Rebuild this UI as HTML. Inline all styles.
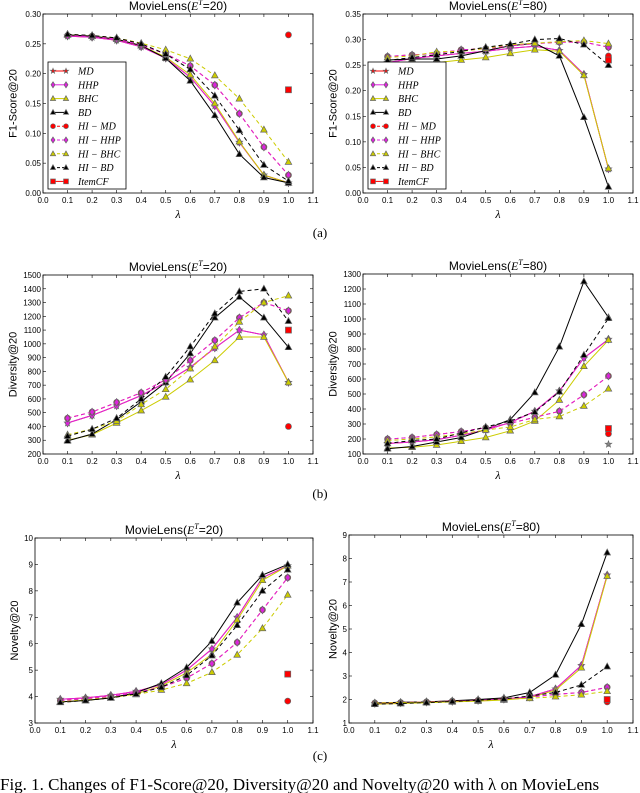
<!DOCTYPE html>
<html><head><meta charset="utf-8">
<style>
body{margin:0;background:#fff;width:640px;height:793px;overflow:hidden}
svg{display:block}
text{font-family:"Liberation Sans",sans-serif}
.serif{font-family:"Liberation Serif",serif}
</style></head>
<body>
<svg id="fig" width="640" height="793" viewBox="0 0 640 793" xmlns="http://www.w3.org/2000/svg"></svg>
<script>
const lambdas = [0.1,0.2,0.3,0.4,0.5,0.6,0.7,0.8,0.9,1.0];
const xTicks = [0.0,0.1,0.2,0.3,0.4,0.5,0.6,0.7,0.8,0.9,1.0,1.1];
const seriesNames = ["MD","HHP","BHC","BD","HI-MD","HI-HHP","HI-BHC","HI-BD"];
// (a) F1 E=20
const a1_MD=[.263,.261,.256,.245,.226,.194,.146,.085,.03,.017];
const a1_HHP=[.263,.261,.256,.245,.226,.194,.146,.085,.03,.017];
const a1_BHC=[.265,.263,.258,.247,.228,.198,.15,.086,.03,.017];
const a1_BD=[.265,.263,.258,.247,.226,.188,.13,.065,.026,.017];
const a1_HIMD=[.264,.263,.258,.248,.233,.213,.181,.133,.077,.03];
const a1_HIHHP=[.264,.263,.258,.248,.233,.213,.181,.133,.077,.03];
const a1_HIBHC=[.266,.264,.26,.251,.24,.225,.197,.158,.106,.052];
const a1_HIBD=[.266,.264,.26,.25,.233,.207,.163,.105,.047,.02];
const a1_extra=[.265,.173];
const a1_yTicks=[0,.05,.10,.15,.20,.25,.30];
// (a) F1 E=80
const a2_MD=[.255,.263,.268,.273,.277,.283,.287,.279,.232,.047];
const a2_HHP=[.255,.263,.268,.273,.277,.283,.287,.279,.232,.047];
const a2_BHC=[.255,.255,.255,.26,.265,.273,.28,.277,.23,.048];
const a2_BD=[.26,.262,.262,.268,.278,.288,.293,.268,.148,.012];
const a2_HIMD=[.267,.27,.273,.28,.282,.288,.292,.295,.295,.285];
const a2_HIHHP=[.267,.27,.273,.28,.282,.288,.292,.295,.295,.285];
const a2_HIBHC=[.265,.268,.276,.277,.283,.29,.293,.296,.298,.292];
const a2_HIBD=[.259,.265,.27,.277,.285,.291,.3,.302,.29,.25];
const a2_extra=[.268,.26];
const a2_yTicks=[0,.05,.10,.15,.20,.25,.30,.35];
// (b) Diversity E=20
const b1_MD=[425,480,550,625,720,830,970,1100,1065,720];
const b1_HHP=[425,480,550,625,720,830,970,1100,1065,720];
const b1_BHC=[300,340,425,515,615,740,880,1050,1050,720];
const b1_BD=[295,345,450,580,720,930,1190,1340,1190,975];
const b1_HIMD=[460,505,575,645,740,880,1025,1190,1300,1240];
const b1_HIHHP=[460,505,575,645,740,880,1025,1190,1300,1240];
const b1_HIBHC=[340,380,440,560,670,820,980,1160,1300,1350];
const b1_HIBD=[330,380,460,600,760,980,1220,1380,1400,1165];
const b1_extra=[400,1100];
const b1_yTicks=[200,300,400,500,600,700,800,900,1000,1100,1200,1300,1400,1500];
// (b) Diversity E=80
const b2_MD=[170,180,195,225,260,310,385,520,740,865];
const b2_HHP=[170,180,195,225,260,310,385,520,740,865];
const b2_BHC=[140,145,160,185,210,255,320,460,685,860];
const b2_BD=[135,150,180,210,265,330,510,815,1250,1010];
const b2_HIMD=[200,210,230,250,275,305,345,385,495,620];
const b2_HIHHP=[200,210,230,250,275,305,345,385,495,620];
const b2_HIBHC=[190,200,215,235,260,280,330,350,420,535];
const b2_HIBD=[170,190,200,240,280,320,380,515,760,1005];
const b2_extra=[235,270,165];
const b2_yTicks=[100,200,300,400,500,600,700,800,900,1000,1100,1200,1300];
// (c) Novelty E=20
const c1_MD=[3.9,3.95,4.05,4.2,4.45,5.0,5.8,7.0,8.5,8.95];
const c1_HHP=[3.9,3.95,4.05,4.2,4.45,5.0,5.8,7.0,8.5,8.95];
const c1_BHC=[3.8,3.85,3.95,4.1,4.4,4.9,5.6,6.9,8.4,8.95];
const c1_BD=[3.8,3.85,3.95,4.15,4.5,5.1,6.1,7.55,8.6,9.0];
const c1_HIMD=[3.85,3.92,4.0,4.15,4.35,4.7,5.25,6.05,7.28,8.5];
const c1_HIHHP=[3.85,3.92,4.0,4.15,4.35,4.7,5.25,6.05,7.28,8.5];
const c1_HIBHC=[3.8,3.88,3.97,4.08,4.25,4.5,4.92,5.58,6.58,7.85];
const c1_HIBD=[3.78,3.85,3.95,4.1,4.35,4.8,5.55,6.7,8.0,8.8];
const c1_extra=[3.83,4.85];
const c1_yTicks=[3,4,5,6,7,8,9,10];
// (c) Novelty E=80
const c2_MD=[1.83,1.86,1.89,1.92,1.96,2.02,2.12,2.45,3.45,7.3];
const c2_HHP=[1.83,1.86,1.89,1.92,1.96,2.02,2.12,2.45,3.45,7.3];
const c2_BHC=[1.8,1.83,1.86,1.9,1.93,1.98,2.07,2.4,3.35,7.25];
const c2_BD=[1.85,1.88,1.9,1.95,2.0,2.07,2.3,3.05,5.2,8.25];
const c2_HIMD=[1.85,1.87,1.9,1.93,1.97,2.02,2.1,2.22,2.3,2.52];
const c2_HIHHP=[1.85,1.87,1.9,1.93,1.97,2.02,2.1,2.22,2.3,2.52];
const c2_HIBHC=[1.85,1.87,1.89,1.92,1.95,2.0,2.05,2.12,2.2,2.35];
const c2_HIBD=[1.8,1.83,1.87,1.92,1.97,2.03,2.15,2.3,2.62,3.4];
const c2_extra=[1.9,2.0];
const c2_yTicks=[1,2,3,4,5,6,7,8,9];

const NS="http://www.w3.org/2000/svg";
const svg=document.getElementById('fig');
function mk(tag,attrs,parent){const e=document.createElementNS(NS,tag);for(const k in attrs)e.setAttribute(k,attrs[k]);(parent||svg).appendChild(e);return e;}

const styles={
 "MD":{c:"#ff0000",dash:null,m:"star"},
 "HHP":{c:"#dd22dd",dash:null,m:"diamond"},
 "BHC":{c:"#cccc00",dash:null,m:"tri"},
 "BD":{c:"#000000",dash:null,m:"tri"},
 "HI-MD":{c:"#ff0000",dash:"4,3",m:"circle"},
 "HI-HHP":{c:"#dd22dd",dash:"4,3",m:"diamond"},
 "HI-BHC":{c:"#cccc00",dash:"4,3",m:"tri"},
 "HI-BD":{c:"#000000",dash:"4,3",m:"tri"}
};
function marker(g,type,x,y,fill,sc){
 sc=sc||1;
 const st={fill:fill,stroke:"#666","stroke-width":0.7};
 let e;
 if(type==="tri")e=mk('polygon',Object.assign({points:`${x},${y-3.6*sc} ${x-3.3*sc},${y+2.4*sc} ${x+3.3*sc},${y+2.4*sc}`},st),g);
 else if(type==="diamond")e=mk('polygon',Object.assign({points:`${x},${y-3.8*sc} ${x-2.5*sc},${y} ${x},${y+3.8*sc} ${x+2.5*sc},${y}`},st),g);
 else if(type==="circle")e=mk('circle',Object.assign({cx:x,cy:y,r:3*sc},st),g);
 else if(type==="square")e=mk('rect',Object.assign({x:x-3*sc,y:y-3*sc,width:6*sc,height:6*sc},st),g);
 else{let p=[];for(let i=0;i<10;i++){const r=(i%2?1.4:3.4)*sc,a=-Math.PI/2+i*Math.PI/5;p.push((x+r*Math.cos(a)).toFixed(1)+','+(y+r*Math.sin(a)).toFixed(1));}
  e=mk('polygon',Object.assign({points:p.join(' ')},st),g);}
 
 
}

function panel(id,title,ylabel,x0,x1,y0,y1,ymin,ymax,yTicks,data,extra,legend,yfmt){
 const g=mk('g',{});
 
 
 const sx=v=>x0+(x1-x0)*v/1.1;
 const sy=v=>y1-(y1-y0)*(v-ymin)/(ymax-ymin);
 const t=mk('text',{x:(x0+x1)/2,y:y0-4,'text-anchor':'middle','font-size':12},g);
 
 t.innerHTML='MovieLens(<tspan class="serif" font-style="italic">E</tspan><tspan class="serif" font-style="italic" font-size="8" dy="-5">T</tspan><tspan dy="5">='+title+')</tspan>';
 const tg=mk('g',{},g);
 xTicks.forEach(v=>{const X=sx(v);
  mk('line',{x1:X,x2:X,y1:y1,y2:y1-3,stroke:'#000','stroke-width':0.6},tg);
  mk('line',{x1:X,x2:X,y1:y0,y2:y0+3,stroke:'#000','stroke-width':0.6},tg);
  const l=mk('text',{x:X,y:y1+10,'text-anchor':'middle','font-size':8},tg);l.textContent=v.toFixed(1);});
 const yg=mk('g',{},g);
 yTicks.forEach(v=>{const Y=sy(v);
  mk('line',{x1:x0,x2:x0+3,y1:Y,y2:Y,stroke:'#000','stroke-width':0.6},yg);
  mk('line',{x1:x1,x2:x1-3,y1:Y,y2:Y,stroke:'#000','stroke-width':0.6},yg);
  const l=mk('text',{x:x0-2,y:Y+3,'text-anchor':'end','font-size':8},yg);l.textContent=yfmt(v);});
 const xl=mk('text',{x:(x0+x1)/2,y:y1+25,'text-anchor':'middle','font-size':12,'font-style':'italic',class:'serif'},g);
 xl.textContent='λ';
 const yy=(y0+y1)/2, yx=x0-(yfmt(yTicks[yTicks.length-1]).length*4.6)-8;
 const yl=mk('text',{x:yx,y:yy,'text-anchor':'middle','font-size':11,transform:`rotate(-90 ${yx} ${yy})`},g);
 yl.textContent=ylabel;
 seriesNames.forEach((n,i)=>{const s=styles[n];const vals=data[i];
  const sg=mk('g',{},g);
  const pts=vals.map((v,j)=>sx(lambdas[j]).toFixed(1)+','+sy(v).toFixed(1)).join(' ');
  const pl=mk('polyline',{points:pts,fill:'none',stroke:s.c,'stroke-width':1},sg);
  if(s.dash)pl.setAttribute('stroke-dasharray',s.dash);
  vals.forEach((v,j)=>marker(sg,s.m,sx(lambdas[j]),sy(v),s.c));
 });
 const eg=mk('g',{},g);
 marker(eg,'circle',sx(1.0),sy(extra[0]),'#ff0000');
 marker(eg,'square',sx(1.0),sy(extra[1]),'#ff0000');
 if(extra.length>2)marker(eg,'star',sx(1.0),sy(extra[2]),'#888');
 mk('rect',{x:x0,y:y0,width:x1-x0,height:y1-y0,fill:'none',stroke:'#000','stroke-width':0.8},g);
 if(legend){
  const lg=mk('g',{},g);
  const lx=x0+5,ly=62;
  mk('rect',{x:lx,y:ly,width:78,height:127,fill:'#fff',stroke:'#000','stroke-width':0.8},lg);
  const names=seriesNames.concat(['ItemCF']);
  const lbl=["MD","HHP","BHC","BD","HI − MD","HI − HHP","HI − BHC","HI − BD","ItemCF"];
  names.forEach((n,i)=>{const Y=ly+9+i*13.8;
   const s=styles[n]||{c:'#ff0000',dash:null,m:'square'};
   const e=mk('g',{},lg);
   const ln=mk('line',{x1:lx+4,x2:lx+18,y1:Y,y2:Y,stroke:s.c,'stroke-width':1},e);
   if(s.dash)ln.setAttribute('stroke-dasharray','3,2');
   marker(e,s.m,lx+5,Y,s.c,0.8);marker(e,s.m,lx+18,Y,s.c,0.8);
   const tx=mk('text',{x:lx+30,y:Y+3.5,'font-size':10,'font-style':'italic',class:'serif'},e);tx.textContent=lbl[i];});
 }
}
const f2=v=>v.toFixed(2), f0=v=>String(v);
panel('panel-f1-e20','20','F1-Score@20',43,313,14,193,0,.30,a1_yTicks,[a1_MD,a1_HHP,a1_BHC,a1_BD,a1_HIMD,a1_HIHHP,a1_HIBHC,a1_HIBD],a1_extra,true,f2);
panel('panel-f1-e80','80','F1-Score@20',363,633,14,193,0,.35,a2_yTicks,[a2_MD,a2_HHP,a2_BHC,a2_BD,a2_HIMD,a2_HIHHP,a2_HIBHC,a2_HIBD],a2_extra,true,f2);
panel('panel-div-e20','20','Diversity@20',43,313,275,454,200,1500,b1_yTicks,[b1_MD,b1_HHP,b1_BHC,b1_BD,b1_HIMD,b1_HIHHP,b1_HIBHC,b1_HIBD],b1_extra,false,f0);
panel('panel-div-e80','80','Diversity@20',363,633,274,454,100,1300,b2_yTicks,[b2_MD,b2_HHP,b2_BHC,b2_BD,b2_HIMD,b2_HIHHP,b2_HIBHC,b2_HIBD],b2_extra,false,f0);
panel('panel-nov-e20','20','Novelty@20',35,313,538,723,3,10,c1_yTicks,[c1_MD,c1_HHP,c1_BHC,c1_BD,c1_HIMD,c1_HIHHP,c1_HIBHC,c1_HIBD],c1_extra,false,f0);
panel('panel-nov-e80','80','Novelty@20',349,633,535,723,1,9,c2_yTicks,[c2_MD,c2_HHP,c2_BHC,c2_BD,c2_HIMD,c2_HIHHP,c2_HIBHC,c2_HIBD],c2_extra,false,f0);
[['(a)',237],['(b)',498],['(c)',760]].forEach(([s,y])=>{const t=mk('text',{x:320,y:y,'text-anchor':'middle','font-size':13,class:'serif'});
 t.textContent=s;});
const cap=mk('text',{x:0,y:790,'font-size':17,class:'serif'});

cap.textContent='Fig. 1. Changes of F1-Score@20, Diversity@20 and Novelty@20 with λ on MovieLens';
</script>
</body></html>
